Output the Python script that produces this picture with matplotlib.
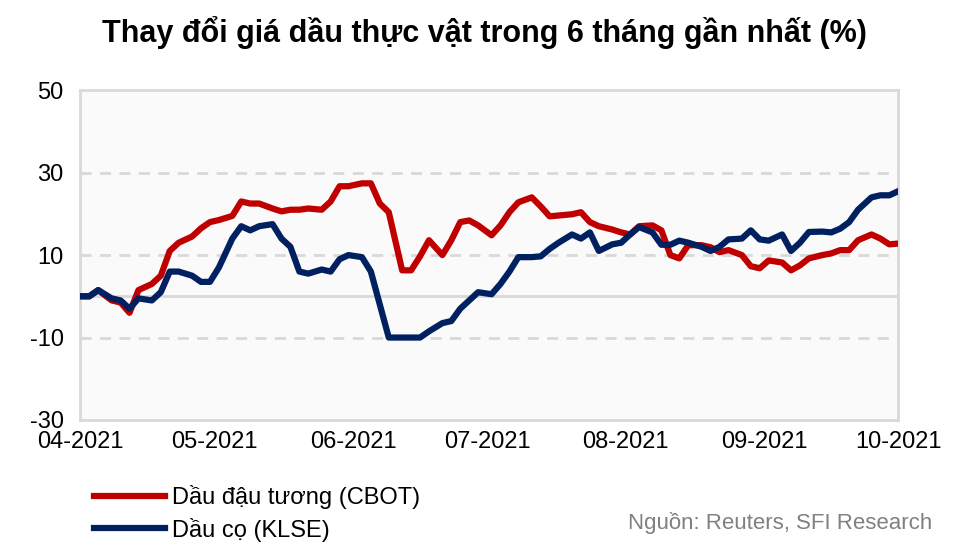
import matplotlib
matplotlib.use("Agg")
import matplotlib.pyplot as plt
import numpy as np
import datetime as dt

days = [0,2,4,7,9,11,13,16,18,20,22,25,27,29,31,34,36,38,40,43,45,47,49,51,54,56,58,60,63,65,67,69,72,74,76,78,81,83,85,87,89,92,94,96,98,101,103,105,107,110,112,114,116,119,121,123,125,128,130,132,134,136,139,141,143,145,148,150,152,154,157,159,161,163,166,168,170,172,174,177,179,181,183]
soy = [0,0,1.5,-1,-1.5,-4,1.5,3,5,11,13,14.5,16.5,18,18.5,19.5,23,22.5,22.5,21.3,20.6,21,21,21.3,21,23,26.7,26.7,27.4,27.4,22.5,20.4,6.3,6.3,9.7,13.6,10,13.6,18,18.4,17.2,14.8,17.2,20.4,22.8,24,21.8,19.4,19.6,19.9,20.4,18,17,16.2,15.5,15,17,17.2,16,10,9.2,12.4,12.4,11.9,10.7,11.2,10,7.3,6.8,8.7,8.2,6.3,7.5,9.2,10,10.4,11.2,11.2,13.6,15,14,12.6,12.8]
palm = [0,0,1.5,-0.5,-1,-3,-0.5,-1,1,6,6,5,3.5,3.5,7,14,17,16,17,17.5,14,12,6,5.5,6.5,6,9,10,9.5,6,-2,-10,-10,-10,-10,-8.5,-6.5,-6,-3,-1,1,0.5,3,6,9.5,9.5,9.7,11.5,13,15,14,15.5,11,12.6,13,15,16.8,15.5,12.5,12.5,13.5,13,12,11,12,13.8,14,16,13.8,13.5,15,11,13,15.6,15.7,15.5,16.4,18,21,24,24.5,24.5,25.5]
start = dt.date(2021, 4, 1)
dates = [start + dt.timedelta(days=d) for d in days]
tick_dates = [dt.date(2021, m, 1) for m in range(4, 11)]
tick_labels = ["04-2021","05-2021","06-2021","07-2021","08-2021","09-2021","10-2021"]
y_ticks = [-30, -10, 10, 30, 50]

plt.rcParams['font.family'] = ['Liberation Sans', 'DejaVu Sans']
fig = plt.figure(figsize=(9.68, 5.6), dpi=100)
ax = fig.add_axes([0.083, 0.25, 0.845, 0.589])
ax.set_facecolor('#fafafa')
for v in [10, 30, -10]:
    ax.axhline(v, color='#d9d9d9', lw=2, ls=(0, (4, 3)), zorder=1)
ax.axhline(0, color='#d9d9d9', lw=2, zorder=1)
ax.plot(dates, soy, color='#c00000', lw=4.5, label='Dầu đậu tương (CBOT)', zorder=3, solid_joinstyle='round')
ax.plot(dates, palm, color='#002060', lw=4.5, label='Dầu cọ (KLSE)', zorder=3, solid_joinstyle='round')
ax.set_ylim(-30, 50)
ax.set_yticks(y_ticks)
ax.set_yticklabels([str(v) for v in y_ticks])
ax.set_xlim(tick_dates[0], tick_dates[-1])
ax.set_xticks(tick_dates)
ax.set_xticklabels(tick_labels)
ax.tick_params(labelsize=17, length=0, pad=8)
ax.tick_params(axis='y', pad=12)
for s in ax.spines.values():
    s.set_color('#d9d9d9'); s.set_linewidth(2)
fig.text(0.5, 0.925, 'Thay đổi giá dầu thực vật trong 6 tháng gần nhất (%)', ha='center', fontsize=22, fontweight='bold')
fig.legend(loc='lower left', bbox_to_anchor=(0.075, -0.005), frameon=False, fontsize=17, handlelength=3.0, handletextpad=0.3, labelspacing=0.35)
fig.text(0.963, 0.055, 'Nguồn: Reuters, SFI Research', ha='right', fontsize=16, color='#808080')
fig.savefig('out.png')
